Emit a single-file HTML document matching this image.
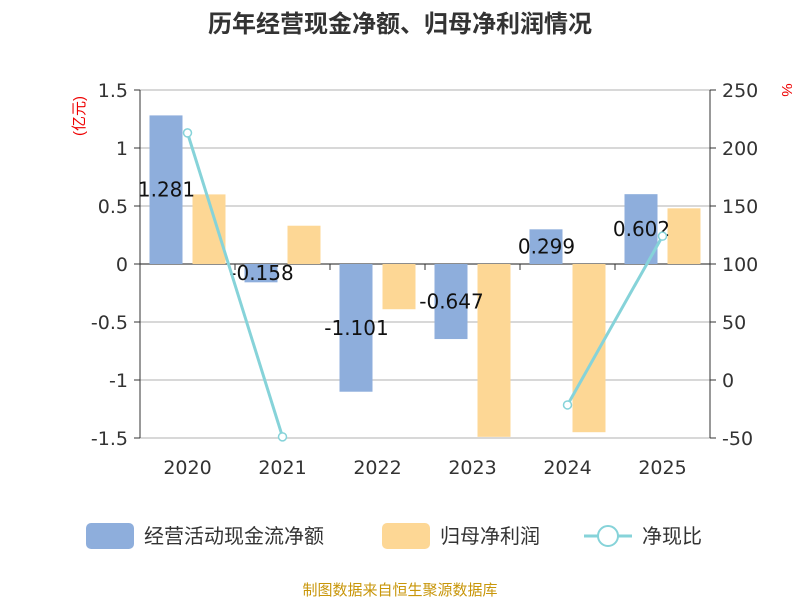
<!DOCTYPE html>
<html><head><meta charset="utf-8"><style>
body{margin:0;background:#fff;width:800px;height:600px;overflow:hidden;font-family:"Liberation Sans","Noto Sans CJK SC",sans-serif}
</style></head><body>
<svg id="c" width="800" height="600" xmlns="http://www.w3.org/2000/svg">
<text x="400" y="32" text-anchor="middle" font-size="24" font-weight="bold" fill="#333" font-family="Liberation Sans,Noto Sans CJK SC,sans-serif">历年经营现金净额、归母净利润情况</text>
<text x="0" y="0" transform="translate(84,116) rotate(-90)" text-anchor="middle" font-size="15" fill="#e00" font-family="Liberation Sans,Noto Sans CJK SC,sans-serif">(亿元)</text>
<text x="0" y="0" transform="translate(782,90) rotate(90)" text-anchor="middle" font-size="15" fill="#e00">%</text>
<g id="grid" font-family="DejaVu Sans,sans-serif"></g><g id="bars"></g><g id="labels" font-family="DejaVu Sans,sans-serif"></g><g id="line"></g>
<g font-family="Liberation Sans,Noto Sans CJK SC,sans-serif" font-size="20" fill="#333">
<rect x="86" y="523" width="48" height="26" rx="5" fill="#8eaedc"/>
<text x="144" y="543">经营活动现金流净额</text>
<rect x="382" y="523" width="48" height="26" rx="5" fill="#fdd795"/>
<text x="440" y="543">归母净利润</text>
<line x1="584" y1="536" x2="632" y2="536" stroke="#86d3d9" stroke-width="3"/>
<circle cx="608" cy="536" r="10" fill="#fff" stroke="#86d3d9" stroke-width="2"/>
<text x="642" y="543">净现比</text>
</g>
<text x="400" y="595" text-anchor="middle" font-size="15" fill="#c8960a" font-family="Liberation Sans,Noto Sans CJK SC,sans-serif">制图数据来自恒生聚源数据库</text>
</svg>
<script>
const categories=["2020","2021","2022","2023","2024","2025"];
const cashFlow=[1.281,-0.158,-1.101,-0.647,0.299,0.602];
const netProfit=[0.6,0.33,-0.39,-1.49,-1.45,0.48];
const ratio=[213,-49,null,null,-21.5,124];
const leftTicks=[1.5,1,0.5,0,-0.5,-1,-1.5];
const leftTickLabels=["1.5","1","0.5","0","-0.5","-1","-1.5"];
const rightTicks=[250,200,150,100,50,0,-50];
const NS="http://www.w3.org/2000/svg";
const X0=140,X1=710,Y0=90,Y1=438;
const band=(X1-X0)/categories.length;
const yL=v=>Y0+(1.5-v)/3*(Y1-Y0);
const yR=v=>Y0+(250-v)/300*(Y1-Y0);
const xC=i=>X0+band*(i+0.5);
function mk(t,a,p){const e=document.createElementNS(NS,t);for(const k in a)e.setAttribute(k,a[k]);p.appendChild(e);return e;}
const g=document.getElementById('grid');
leftTicks.forEach((v,i)=>{
 const l=mk('line',{x1:X0,x2:X1,y1:yL(v),y2:yL(v),stroke:'#ccc','stroke-width':1.5},g);
 
 
 const t=mk('text',{x:X0-12,y:yL(v)+7,'text-anchor':'end','font-size':19,fill:'#333'},g);t.textContent=leftTickLabels[i];
 
 
 mk('line',{x1:X0-6,x2:X0,y1:yL(v),y2:yL(v),stroke:'#333'},g);
});
rightTicks.forEach(v=>{
 const t=mk('text',{x:X1+12,y:yR(v)+7,'font-size':19,fill:'#333'},g);t.textContent=v;
 
 
 mk('line',{x1:X1,x2:X1+6,y1:yR(v),y2:yR(v),stroke:'#333'},g);
});
mk('line',{x1:X0,x2:X0,y1:Y0,y2:Y1,stroke:'#333'},g);
mk('line',{x1:X1,x2:X1,y1:Y0,y2:Y1,stroke:'#333'},g);
mk('line',{x1:X0,x2:X1,y1:yL(0),y2:yL(0),stroke:'#333'},g);
categories.forEach((c,i)=>{
 mk('line',{x1:X0+band*i,x2:X0+band*i,y1:yL(0),y2:yL(0)+6,stroke:'#333'},g);
 const t=mk('text',{x:xC(i),y:Y1+36,'text-anchor':'middle','font-size':19,fill:'#333'},g);t.textContent=c;
 
 
});
const b=document.getElementById('bars'),lb=document.getElementById('labels');
categories.forEach((c,i)=>{
 const y0=yL(0),yc=yL(cashFlow[i]),yp=yL(netProfit[i]);
 const r1=mk('rect',{x:xC(i)-38,width:33,y:Math.min(y0,yc),height:Math.abs(yc-y0),fill:'#8eaedc'},b);
 
 
 const r2=mk('rect',{x:xC(i)+5,width:33,y:Math.min(y0,yp),height:Math.abs(yp-y0),fill:'#fdd795'},b);
 
 
 const t=mk('text',{x:xC(i)-21,y:(y0+yc)/2+7,'text-anchor':'middle','font-size':20,fill:'#111'},lb);t.textContent=cashFlow[i];
 
 
});
const ln=document.getElementById('line');
let seg=[];
const segs=[];
ratio.forEach((v,i)=>{if(v===null){if(seg.length)segs.push(seg);seg=[];}else seg.push([xC(i),yR(v)]);});
if(seg.length)segs.push(seg);
segs.forEach(s=>{const p=mk('polyline',{points:s.map(q=>q.join(',')).join(' '),fill:'none',stroke:'#86d3d9','stroke-width':3},ln);
 
 });
ratio.forEach((v,i)=>{if(v===null)return;const c=mk('circle',{cx:xC(i),cy:yR(v),r:4,fill:'#fff',stroke:'#86d3d9','stroke-width':1.5},ln);
 
 });
</script>
</body></html>
